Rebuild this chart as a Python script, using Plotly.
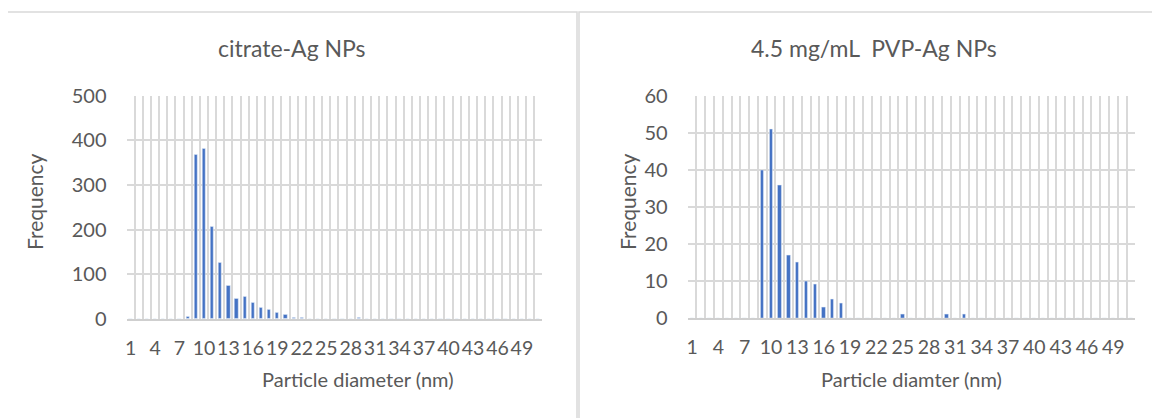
import plotly.graph_objects as go

# ---- data ----
diam = list(range(1, 52))
citrate_counts = {8: 5, 9: 369, 10: 382, 11: 207, 12: 125, 13: 74, 14: 46, 15: 49,
                  16: 37, 17: 25, 18: 20, 19: 14, 20: 10, 21: 4, 22: 4, 23: 1, 24: 1,
                  25: 1, 29: 2, 36: 1}
pvp_counts = {9: 40, 10: 51, 11: 36, 12: 17, 13: 15, 14: 10, 15: 9, 16: 3, 17: 5,
              18: 4, 25: 1, 30: 1, 32: 1}
citrate = [citrate_counts.get(d, 0) for d in diam]
pvp = [pvp_counts.get(d, 0) for d in diam]
tick_labels = list(range(1, 50, 3))

title_left = "citrate-Ag NPs"
title_right = "4.5 mg/mL  PVP-Ag NPs"
xtitle_left = "Particle diameter (nm)"
xtitle_right = "Particle diamter (nm)"
ytitle = "Frequency"

# ---- layout helpers ----
OFF = 8  # page body margin
W, H = 1160 - OFF, 418 - OFF
FONT = "Lato"
TXT = "#595959"
GRID = "#d9d9d9"
BLUE = "#4472C4"


def px(x):
    return (x - OFF) / W


def py(y):
    return (H - (y - OFF)) / H


fig = go.Figure()
fig.add_trace(go.Bar(x=diam, y=citrate, marker_color=BLUE, width=0.4,
                     xaxis="x", yaxis="y", showlegend=False))
fig.add_trace(go.Bar(x=diam, y=pvp, marker_color=BLUE, width=0.38,
                     xaxis="x2", yaxis="y2", showlegend=False))

xcommon = dict(range=[0.5, 51.5], tickmode="array", tickvals=tick_labels,
               ticktext=[str(t) for t in tick_labels], showgrid=False, tickangle=0,
               minor=dict(tick0=0.5, dtick=1, showgrid=True, gridcolor=GRID, gridwidth=1.5, ticks=""),
               showline=True, linecolor="#cfcfcf", linewidth=2, ticks="",
               tickfont=dict(family=FONT, size=19.5, color=TXT), ticklabelstandoff=11,
               zeroline=False, automargin=False, fixedrange=True)
ycommon = dict(showgrid=True, gridcolor=GRID, gridwidth=1.5, zeroline=False,
               showline=False, ticks="", tickfont=dict(family=FONT, size=20, color=TXT),
               ticklabelstandoff=19, automargin=False, fixedrange=True)

fig.update_layout(
    width=W, height=H, margin=dict(l=0, r=0, t=0, b=0),
    paper_bgcolor="white", plot_bgcolor="white", bargap=0,
    xaxis=dict(domain=[px(126.5), px(542.3)], anchor="y", **xcommon),
    yaxis=dict(domain=[py(319), py(95.7)], anchor="x", range=[0, 500], dtick=100, **ycommon),
    xaxis2=dict(domain=[px(687.7), px(1135.3)], anchor="y2", **xcommon),
    yaxis2=dict(domain=[py(318), py(96.3)], anchor="x2", range=[0, 60], dtick=10, **ycommon),
)

# chart borders
for x0, x1 in [(7, 577), (579, 1175)]:
    fig.add_shape(type="rect", xref="paper", yref="paper",
                  x0=px(x0), x1=px(x1), y0=py(430), y1=py(12),
                  line=dict(color=GRID, width=1.5), fillcolor="rgba(0,0,0,0)", layer="below")

ann = [
    (title_left, 292, 48, 23, 0),
    (title_right, 874, 48, 23, 0),
    (xtitle_left, 358, 379, 20, 0),
    (xtitle_right, 911, 379, 20, 0),
    (ytitle, 34, 202, 21, -90),
    (ytitle, 627, 202, 21, -90),
]
for text, x, y, size, ang in ann:
    fig.add_annotation(text=text, xref="paper", yref="paper", x=px(x), y=py(y),
                       xanchor="center", yanchor="middle", showarrow=False, textangle=ang,
                       font=dict(family=FONT, size=size, color=TXT))

fig.write_html("out.html")
